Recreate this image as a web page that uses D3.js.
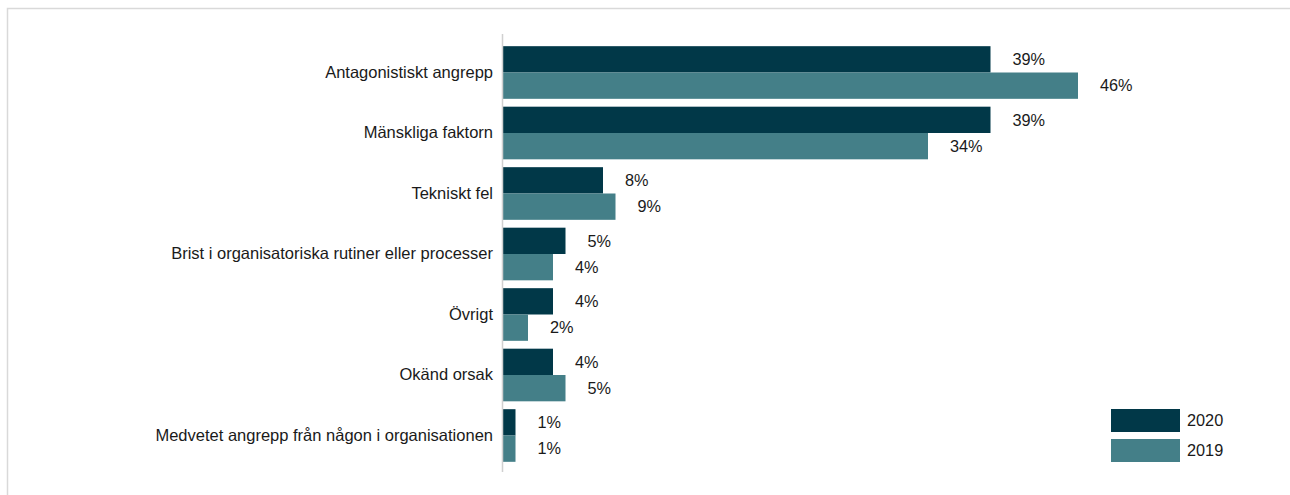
<!DOCTYPE html>
<html>
<head>
<meta charset="utf-8">
<script src="https://cdn.jsdelivr.net/npm/d3@7"></script>
<style>
  html, body { margin: 0; padding: 0; background: #fff; }
  svg { display: block; }
  text { font-family: "Liberation Sans", Arial, sans-serif; fill: #1a1a1a; }
</style>
</head>
<body>
<svg id="chart" width="1290" height="495"></svg>
<script>
// Causes of incidents, share of reports per year (%)
const categories = [
  "Antagonistiskt angrepp",
  "Mänskliga faktorn",
  "Tekniskt fel",
  "Brist i organisatoriska rutiner eller processer",
  "Övrigt",
  "Okänd orsak",
  "Medvetet angrepp från någon i organisationen"
];
const seriesNames = ["2020", "2019"];
const values2020 = [39, 39, 8, 5, 4, 4, 1];
const values2019 = [46, 34, 9, 4, 2, 5, 1];
const seriesColors = ["#013848", "#447f88"];

const svg = d3.select("#chart");

// outer frame (only top and left edges fall inside the viewport)
svg.append("rect")
  .attr("x", 7.5).attr("y", 8.5)
  .attr("width", 1400).attr("height", 600)
  .attr("fill", "none")
  .attr("stroke", "#d9d9d9")
  .attr("stroke-width", 1.5);

const x0 = 503;
const x = d3.scaleLinear().domain([0, 46]).range([x0, x0 + 46 * 12.5]);

const y = d3.scaleBand()
  .domain(categories)
  .range([42.25, 465.75])
  .paddingInner(0.13)
  .paddingOuter(0.065);

const inner = d3.scaleBand()
  .domain(seriesNames)
  .range([0, y.bandwidth()]);

const rows = categories.map((c, i) => ({
  cat: c,
  vals: [values2020[i], values2019[i]]
}));

const g = svg.append("g");

const groups = g.selectAll("g.cat")
  .data(rows)
  .join("g")
  .attr("class", "cat")
  .attr("transform", d => `translate(0,${y(d.cat)})`);

groups.selectAll("rect")
  .data(d => d.vals.map((v, j) => ({ v, s: seriesNames[j], j })))
  .join("rect")
  .attr("x", x(0))
  .attr("y", d => inner(d.s))
  .attr("width", d => x(d.v) - x(0))
  .attr("height", inner.bandwidth())
  .attr("fill", d => seriesColors[d.j]);

groups.selectAll("text.val")
  .data(d => d.vals.map((v, j) => ({ v, s: seriesNames[j] })))
  .join("text")
  .attr("class", "val")
  .attr("x", d => x(d.v) + 22)
  .attr("y", d => inner(d.s) + inner.bandwidth() / 2)
  .attr("dy", "0.35em")
  .attr("font-size", 16.3)
  .text(d => d.v + "%");

// category axis
const yAxis = d3.axisLeft(y).tickSize(0).tickPadding(10);
const axisG = svg.append("g")
  .attr("transform", `translate(${x0},0)`)
  .call(yAxis);
axisG.select(".domain").remove();
axisG.selectAll("text")
  .attr("font-size", 16.5)
  .attr("font-family", "Liberation Sans, Arial, sans-serif")
  .attr("fill", "#1a1a1a");

svg.append("line")
  .attr("x1", x0 - 0.5).attr("x2", x0 - 0.5)
  .attr("y1", 34).attr("y2", 472)
  .attr("stroke", "#d0d0d0")
  .attr("stroke-width", 1.5);

// legend
const legend = svg.append("g").attr("transform", "translate(1111,409)");
seriesNames.forEach((s, i) => {
  const lg = legend.append("g").attr("transform", `translate(0,${i * 30})`);
  lg.append("rect")
    .attr("width", 69).attr("height", 23)
    .attr("fill", seriesColors[i]);
  lg.append("text")
    .attr("x", 76).attr("y", 11.5)
    .attr("dy", "0.35em")
    .attr("font-size", 16.3)
    .text(s);
});
</script>
</body>
</html>
